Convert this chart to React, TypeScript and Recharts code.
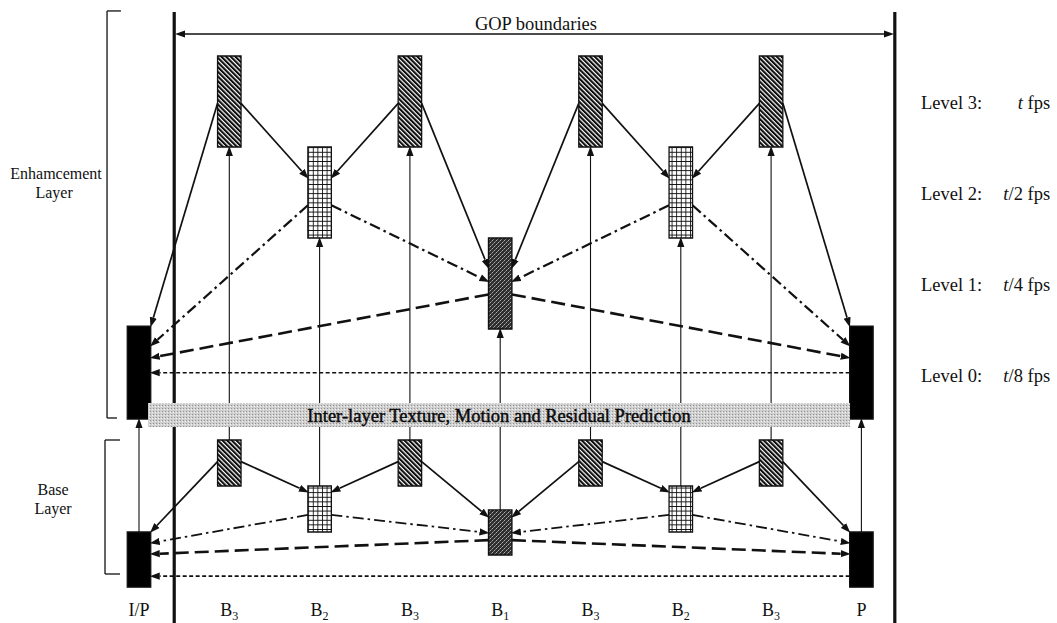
import React from 'react'
import { ComposedChart, XAxis, YAxis, Scatter, ReferenceArea, ReferenceLine } from 'recharts'

// ---- data: one GOP of 8 pictures, hierarchical B prediction ----
const frameNames = ['I/P', 'B', 'B', 'B', 'B', 'B', 'B', 'B', 'P']
const frameLevels = [0, 3, 2, 3, 1, 3, 2, 3, 0]
// [picture, reference picture]
const references: Array<[number, number]> = [
  [1, 0], [1, 2], [3, 2], [3, 4], [5, 4], [5, 6], [7, 6], [7, 8],
  [2, 0], [2, 4], [6, 4], [6, 8],
  [4, 0], [4, 8],
  [8, 0],
]
const levelNames = ['Level 0:', 'Level 1:', 'Level 2:', 'Level 3:']
const levelRates = ['/8 fps', '/4 fps', '/2 fps', ' fps']
const gopBounds = [0.39, 8.37]

// ---- layout ----
const W = 1057
const H = 623
const SERIF = '"Liberation Serif", "Times New Roman", serif'
const INK = '#111'

const X0 = 139 // where picture 0 sits
const XU = 90.3 // one picture step
const ENH_Y0 = 420
const ENH_U = 91
const BASE_Y0 = 624
const BASE_U = 46
const xDomain = [-X0 / XU, (W - X0) / XU]
const enhDomain = [(ENH_Y0 - H) / ENH_U, ENH_Y0 / ENH_U]
const baseDomain = [(BASE_Y0 - H) / BASE_U, BASE_Y0 / BASE_U]

const HALF = 0.13
const enhSpan = [[0.01, 1.03], [1, 2], [2, 3], [3, 4]]
const baseSpan = [[0.8, 2.0], [1.5, 2.48], [2, 3], [3, 4]]
const enhFrac = { src: [0.5, 0.62, 0.64, 0.52], dst: [[0.5], [0.34], [0.21, 0.48], [0, 0.33, 0.34]] }
const baseFrac = { src: [0.8, 0.67, 0.63, 0.47], dst: [[0.8], [0.4], [0.2, 0.51], [0, 0.16, 0.13]] }
const band = { x1: 0.1, x2: 7.874, top: 0.187, bottom: -0.077 }
const BAND_BOTTOM_BASE = 4.283
const ENH0_BOTTOM_BASE = 4.454
const GOP_TOP = 4.4835
const gopArrow = { x1: 0.41, x2: 8.35, y: 4.2418 }
const LABEL_ROW = 0.174
const HEAD_LEN = 10

const lineStyles = [
  { dash: '4 2.5', width: 1.6 },
  { dash: '14 6', width: 2.6 },
  { dash: '11 4 2.5 4', width: 2.2 },
  { dash: undefined, width: 1.7 },
]
const fills = ['#000', 'url(#stipple)', 'url(#grid)', 'url(#hatch)']

type Style = { dash?: string; width: number }

function arrowShape(style: Style, head: 'end' | 'both' | 'none') {
  return (p: any) => {
    const { x1, y1, x2, y2 } = p
    const dx = x2 - x1
    const dy = y2 - y1
    const len = Math.hypot(dx, dy) || 1
    const ux = dx / len
    const uy = dy / len
    const cut = head === 'none' ? 0 : HEAD_LEN - 1
    const sc = head === 'both' ? cut : 0
    return (
      <line
        x1={x1 + ux * sc}
        y1={y1 + uy * sc}
        x2={x2 - ux * cut}
        y2={y2 - uy * cut}
        stroke={INK}
        strokeWidth={style.width}
        strokeDasharray={style.dash}
        markerEnd={head !== 'none' ? 'url(#head)' : undefined}
        markerStart={head === 'both' ? 'url(#head)' : undefined}
      />
    )
  }
}

function edge(spans: number[][], frac: { src: number[]; dst: number[][] }, from: number, to: number) {
  const ls = frameLevels[from]
  const ld = frameLevels[to]
  const dir = to < from ? -1 : 1
  const [slo, shi] = spans[ls]
  const [dlo, dhi] = spans[ld]
  return [
    { x: from + dir * HALF, y: shi - frac.src[ls] * (shi - slo) },
    { x: to - dir * HALF, y: dhi - frac.dst[ls][ld] * (dhi - dlo) },
  ]
}

const FrameLabel = (p: any) => {
  const d = p.payload || p
  return (
    <text x={p.cx} y={p.cy} textAnchor="middle" fontFamily={SERIF} fontSize={18} fill={INK}>
      {d.name}
      {d.level > 0 && <tspan fontSize={12} dy={4}>{d.level}</tspan>}
    </text>
  )
}

const LevelName = (p: any) => {
  const d = p.payload || p
  return (
    <text x={p.cx} y={p.cy} fontFamily={SERIF} fontSize={18.5} fill={INK}>{d.name}</text>
  )
}

const LevelRate = (p: any) => {
  const d = p.payload || p
  return (
    <text x={p.cx} y={p.cy} textAnchor="end" fontFamily={SERIF} fontSize={18.5} fill={INK}>
      <tspan fontStyle="italic">t</tspan>{d.rate}
    </text>
  )
}

const Caption = (p: any) => {
  const d = p.payload || p
  return (
    <text x={p.cx} y={p.cy} textAnchor="middle" fontFamily={SERIF} fontSize={d.size} fill={INK}>{d.text}</text>
  )
}

const frameLabelData = frameNames.map((name, i) => ({ x: i, y: LABEL_ROW, name, level: frameLevels[i] }))
const levelNameData = levelNames.map((name, l) => ({ x: 8.66, y: l + 0.42, name }))
const levelRateData = levelRates.map((rate, l) => ({ x: 10.09, y: l + 0.42, rate }))
const enhCaptions = [
  { x: 4.396, y: 4.286, text: 'GOP boundaries', size: 18.5 },
  { x: -0.919, y: 2.648, text: 'Enhamcement', size: 16 },
  { x: -0.94, y: 2.44, text: 'Layer', size: 16 },
]
const baseCaptions = [
  { x: -0.952, y: 2.804, text: 'Base', size: 16 },
  { x: -0.952, y: 2.391, text: 'Layer', size: 16 },
]

const thin: Style = { width: 1.1 }
const bracket: Style = { width: 1.3 }
const thick: Style = { width: 3.2 }

export default function App() {
  const lines: React.ReactNode[] = []
  let k = 0
  const add = (axis: string, seg: { x: number; y: number }[], style: Style, head: 'end' | 'both' | 'none') => {
    lines.push(
      <ReferenceLine key={'l' + k++} yAxisId={axis} segment={seg} ifOverflow="visible" shape={arrowShape(style, head)} />
    )
  }

  // GOP boundaries
  gopBounds.forEach((gx) => {
    if (gx > band.x1 && gx < band.x2) {
      add('enh', [{ x: gx, y: GOP_TOP }, { x: gx, y: band.top }], thick, 'none')
      add('base', [{ x: gx, y: BAND_BOTTOM_BASE }, { x: gx, y: baseDomain[0] }], thick, 'none')
    } else {
      add('enh', [{ x: gx, y: GOP_TOP }, { x: gx, y: enhDomain[0] }], thick, 'none')
    }
  })
  add('enh', [{ x: gopArrow.x1, y: gopArrow.y }, { x: gopArrow.x2, y: gopArrow.y }], { width: 1.5 }, 'both')

  // layer brackets
  add('enh', [{ x: -0.2, y: 4.495 }, { x: -0.354, y: 4.495 }], bracket, 'none')
  add('enh', [{ x: -0.354, y: 4.495 }, { x: -0.354, y: 0.022 }], bracket, 'none')
  add('enh', [{ x: -0.354, y: 0.022 }, { x: -0.244, y: 0.022 }], bracket, 'none')
  add('base', [{ x: -0.21, y: 4.0 }, { x: -0.3765, y: 4.0 }], bracket, 'none')
  add('base', [{ x: -0.3765, y: 4.0 }, { x: -0.3765, y: 1.087 }], bracket, 'none')
  add('base', [{ x: -0.3765, y: 1.087 }, { x: -0.21, y: 1.087 }], bracket, 'none')

  // inter-layer prediction (base -> enhancement)
  frameLevels.forEach((lv, i) => {
    if (lv === 0) {
      add('base', [{ x: i, y: baseSpan[0][1] }, { x: i, y: ENH0_BOTTOM_BASE }], thin, 'end')
    } else {
      add('base', [{ x: i, y: baseSpan[lv][1] }, { x: i, y: BAND_BOTTOM_BASE }], thin, 'none')
      add('enh', [{ x: i, y: band.top }, { x: i, y: enhSpan[lv][0] }], thin, 'end')
    }
  })

  // temporal prediction in each layer
  references.forEach(([f, r]) => {
    const st = lineStyles[frameLevels[f]]
    add('enh', edge(enhSpan, enhFrac, f, r), st, 'end')
    add('base', edge(baseSpan, baseFrac, f, r), frameLevels[f] === 2 ? { ...st, width: 1.8 } : st, 'end')
  })

  return (
    <div style={{ position: 'absolute', left: 0, top: 0, width: W, height: H, background: '#fff' }}>
      <ComposedChart width={W} height={H} margin={{ top: 0, right: 0, bottom: 0, left: 0 }}>
        <defs>
          <marker id="head" markerUnits="userSpaceOnUse" markerWidth={HEAD_LEN + 1} markerHeight={8}
            refX={0} refY={4} orient="auto-start-reverse">
            <path d={`M0,0.4 L${HEAD_LEN},4 L0,7.6 z`} fill={INK} />
          </marker>
          <pattern id="hatch" patternUnits="userSpaceOnUse" width={3.3} height={3.3} patternTransform="rotate(-45)">
            <rect width={3.3} height={3.3} fill="#fff" />
            <rect width={2.1} height={3.3} fill="#0d0d0d" />
          </pattern>
          <pattern id="grid" patternUnits="userSpaceOnUse" width={4.6} height={4.6}>
            <rect width={4.6} height={4.6} fill="#fff" />
            <path d="M0,0 H4.6 M0,0 V4.6" stroke="#0d0d0d" strokeWidth={1.7} />
          </pattern>
          <pattern id="stipple" patternUnits="userSpaceOnUse" width={4} height={4}>
            <rect width={4} height={4} fill="#2e2e2e" />
            <rect x={0} y={0} width={1} height={1} fill="#b0b0b0" />
            <rect x={2} y={2} width={1} height={1} fill="#b0b0b0" />
            <rect x={1} y={3} width={1} height={1} fill="#7a7a7a" />
            <rect x={3} y={1} width={1} height={1} fill="#7a7a7a" />
          </pattern>
          <pattern id="band" patternUnits="userSpaceOnUse" width={3} height={3}>
            <rect width={3} height={3} fill="#cfcfcf" />
            <rect x={0} y={0} width={1} height={1} fill="#929292" />
            <rect x={2} y={1} width={1} height={1} fill="#f2f2f2" />
          </pattern>
        </defs>

        <XAxis type="number" dataKey="x" domain={xDomain} hide allowDataOverflow />
        <YAxis yAxisId="enh" type="number" dataKey="y" domain={enhDomain} hide allowDataOverflow />
        <YAxis yAxisId="base" type="number" dataKey="y" domain={baseDomain} hide allowDataOverflow />

        {lines}

        {frameLevels.map((lv, i) => (
          <ReferenceArea key={'e' + i} yAxisId="enh" x1={i - HALF} x2={i + HALF}
            y1={enhSpan[lv][0]} y2={enhSpan[lv][1]} fill={fills[lv]} fillOpacity={1}
            stroke={INK} strokeWidth={1.3} ifOverflow="visible" />
        ))}
        {frameLevels.map((lv, i) => (
          <ReferenceArea key={'b' + i} yAxisId="base" x1={i - HALF} x2={i + HALF}
            y1={baseSpan[lv][0]} y2={baseSpan[lv][1]} fill={fills[lv]} fillOpacity={1}
            stroke={INK} strokeWidth={1.3} ifOverflow="visible" />
        ))}

        <ReferenceArea yAxisId="enh" x1={band.x1} x2={band.x2} y1={band.bottom} y2={band.top}
          fill="url(#band)" fillOpacity={1} stroke="none" ifOverflow="visible"
          label={{
            value: 'Inter-layer Texture, Motion and Residual Prediction',
            position: 'center',
            fill: '#0a0a0a',
            stroke: '#0a0a0a',
            strokeWidth: 0.45,
            fontSize: 18.5,
            fontFamily: SERIF,
          }} />

        <Scatter yAxisId="base" data={frameLabelData} shape={FrameLabel} isAnimationActive={false} />
        <Scatter yAxisId="enh" data={levelNameData} shape={LevelName} isAnimationActive={false} />
        <Scatter yAxisId="enh" data={levelRateData} shape={LevelRate} isAnimationActive={false} />
        <Scatter yAxisId="enh" data={enhCaptions} shape={Caption} isAnimationActive={false} />
        <Scatter yAxisId="base" data={baseCaptions} shape={Caption} isAnimationActive={false} />
      </ComposedChart>
    </div>
  )
}
